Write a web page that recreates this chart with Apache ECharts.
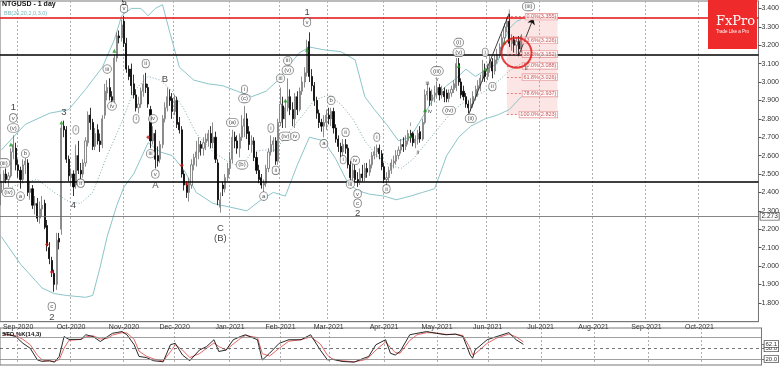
<!DOCTYPE html>
<html><head><meta charset="utf-8">
<script src="https://cdn.jsdelivr.net/npm/echarts@6/dist/echarts.min.js"></script>
<style>html,body{margin:0;padding:0;background:#fff}#c{width:782px;height:366px}</style>
</head><body><div id="c"></div>
<script>
// ---------- DATA ----------
const slotCount = 315; // trading-day slots from 21 Aug 2020 to early Nov 2021
const monthIdx = [7,29,51,72,95,116,136,159,181,202,224,246,268,290];
const monthLabels = ['Sep-2020','Oct-2020','Nov-2020','Dec-2020','Jan-2021','Feb-2021','Mar-2021','Apr-2021','May-2021','Jun-2021','Jul-2021','Aug-2021','Sep-2021','Oct-2021'];
const priceTicks = [1.8,1.9,2.0,2.1,2.2,2.3,2.4,2.5,2.6,2.7,2.8,2.9,3.0,3.1,3.2,3.3,3.4];
const stochTicks = [20,50,62.1,80];
// [open, close, low, high]
const ohlc = [
[2.40,2.46,2.33,2.50],[2.46,2.50,2.42,2.52],[2.50,2.47,2.45,2.53],[2.47,2.49,2.43,2.51],[2.49,2.62,2.48,2.64],
[2.62,2.66,2.58,2.71],[2.64,2.55,2.52,2.67],[2.55,2.52,2.48,2.58],[2.52,2.47,2.42,2.54],[2.47,2.55,2.45,2.58],
[2.55,2.57,2.50,2.59],[2.56,2.40,2.38,2.58],[2.40,2.42,2.36,2.46],[2.42,2.33,2.31,2.44],[2.33,2.34,2.28,2.38],
[2.34,2.26,2.24,2.37],[2.26,2.31,2.23,2.35],[2.31,2.33,2.27,2.38],[2.34,2.21,2.20,2.36],[2.22,2.11,2.08,2.25],
[2.10,2.04,2.01,2.13],[2.03,1.97,1.94,2.05],[1.96,1.90,1.86,1.98],[1.90,2.14,1.87,2.18],[2.15,2.13,2.09,2.18],
[2.20,2.75,2.17,2.77],[2.76,2.74,2.70,2.79],[2.74,2.58,2.56,2.76],[2.58,2.49,2.46,2.60],[2.48,2.50,2.44,2.53],
[2.50,2.43,2.38,2.52],[2.44,2.60,2.42,2.66],[2.60,2.52,2.50,2.68],[2.52,2.50,2.47,2.56],[2.50,2.56,2.48,2.58],
[2.56,2.68,2.54,2.70],[2.67,2.82,2.65,2.84],[2.82,2.78,2.74,2.86],[2.78,2.65,2.63,2.80],[2.65,2.72,2.63,2.75],
[2.74,2.68,2.66,2.77],[2.68,2.66,2.62,2.72],[2.66,2.80,2.64,2.82],[2.82,2.95,2.80,2.99],[2.94,2.97,2.90,3.01],
[2.97,2.92,2.90,3.02],[2.92,2.90,2.87,2.95],[2.90,3.13,2.88,3.15],[3.13,3.25,3.11,3.27],[3.25,3.24,3.21,3.28],
[3.24,3.31,3.22,3.34],[3.33,3.21,3.19,3.36],[3.21,3.07,3.05,3.24],[3.07,3.03,3.01,3.09],[3.07,2.98,2.93,3.10],
[2.99,2.93,2.91,3.04],[2.93,2.86,2.84,2.96],[2.86,2.88,2.83,2.92],[2.88,2.95,2.86,2.97],[2.95,2.99,2.92,3.04],
[2.99,2.97,2.94,3.05],[2.97,2.88,2.86,2.99],[2.85,2.68,2.64,2.87],[2.68,2.72,2.66,2.76],[2.72,2.58,2.53,2.74],
[2.60,2.57,2.54,2.65],[2.58,2.66,2.56,2.68],[2.66,2.80,2.64,2.82],[2.80,2.86,2.78,2.89],[2.86,2.92,2.84,2.97],
[2.92,2.90,2.87,2.96],[2.91,2.84,2.80,2.94],[2.84,2.90,2.82,2.93],[2.90,2.77,2.75,2.92],[2.78,2.74,2.72,2.81],
[2.74,2.50,2.48,2.76],[2.50,2.44,2.41,2.52],[2.44,2.40,2.37,2.46],[2.40,2.45,2.35,2.48],[2.44,2.55,2.42,2.58],
[2.55,2.59,2.52,2.61],[2.59,2.62,2.54,2.68],[2.62,2.66,2.58,2.70],[2.66,2.64,2.60,2.68],[2.64,2.67,2.60,2.70],
[2.67,2.69,2.63,2.72],[2.68,2.72,2.65,2.74],[2.72,2.67,2.64,2.76],[2.67,2.70,2.64,2.78],[2.70,2.58,2.56,2.73],
[2.56,2.36,2.33,2.58],[2.32,2.36,2.29,2.40],[2.44,2.42,2.38,2.46],[2.42,2.48,2.40,2.50],[2.48,2.53,2.46,2.56],
[2.53,2.58,2.50,2.62],[2.58,2.70,2.56,2.74],[2.70,2.68,2.64,2.73],[2.68,2.64,2.61,2.71],[2.64,2.70,2.59,2.72],
[2.70,2.76,2.68,2.82],[2.76,2.80,2.70,2.87],[2.80,2.72,2.69,2.83],[2.73,2.66,2.63,2.76],[2.66,2.68,2.62,2.71],
[2.68,2.59,2.57,2.70],[2.59,2.52,2.50,2.62],[2.52,2.47,2.45,2.55],[2.48,2.44,2.42,2.50],[2.44,2.45,2.40,2.47],
[2.45,2.53,2.43,2.55],[2.53,2.62,2.51,2.64],[2.62,2.66,2.60,2.71],[2.66,2.68,2.62,2.70],[2.68,2.57,2.55,2.70],
[2.57,2.78,2.55,2.80],[2.78,2.88,2.76,2.97],[2.87,2.80,2.75,2.92],[2.80,2.86,2.75,2.90],[2.86,2.92,2.84,3.02],
[2.92,2.85,2.82,2.96],[2.85,2.80,2.76,2.89],[2.80,2.92,2.75,2.94],[2.92,2.85,2.82,2.95],[2.85,2.95,2.84,2.97],
[2.95,3.00,2.93,3.03],[3.00,3.05,2.97,3.08],[3.05,3.19,3.03,3.23],[3.22,3.03,3.00,3.27],[3.03,2.98,2.95,3.07],
[2.98,2.90,2.87,3.00],[2.90,2.83,2.80,2.92],[2.83,2.78,2.75,2.85],[2.78,2.76,2.73,2.80],[2.76,2.78,2.70,2.82],
[2.78,2.82,2.74,2.85],[2.82,2.80,2.77,2.86],[2.80,2.84,2.76,2.86],[2.84,2.75,2.72,2.86],[2.75,2.69,2.67,2.77],
[2.69,2.65,2.62,2.71],[2.65,2.62,2.59,2.67],[2.62,2.66,2.60,2.69],[2.66,2.64,2.61,2.69],[2.64,2.55,2.53,2.66],
[2.55,2.48,2.46,2.57],[2.48,2.52,2.46,2.56],[2.52,2.47,2.45,2.55],[2.47,2.46,2.43,2.51],[2.46,2.50,2.44,2.53],
[2.50,2.48,2.46,2.55],[2.48,2.53,2.46,2.56],[2.53,2.51,2.48,2.56],[2.51,2.55,2.49,2.58],[2.55,2.60,2.53,2.62],
[2.60,2.62,2.58,2.65],[2.62,2.64,2.59,2.66],[2.64,2.61,2.58,2.66],[2.61,2.54,2.52,2.63],[2.54,2.47,2.45,2.56],
[2.47,2.48,2.44,2.51],[2.48,2.52,2.46,2.54],[2.52,2.56,2.50,2.58],[2.56,2.57,2.53,2.60],[2.57,2.60,2.55,2.63],
[2.60,2.63,2.58,2.65],[2.63,2.66,2.61,2.69],[2.66,2.65,2.62,2.70],[2.65,2.68,2.63,2.71],[2.68,2.72,2.66,2.74],
[2.72,2.70,2.67,2.74],[2.72,2.67,2.65,2.73],[2.67,2.69,2.64,2.71],[2.69,2.72,2.66,2.74],[2.73,2.69,2.67,2.76],
[2.69,2.78,2.68,2.80],[2.78,2.93,2.77,2.96],[2.93,2.95,2.90,2.99],[2.95,2.90,2.87,2.97],[2.90,2.93,2.87,2.96],
[2.93,2.94,2.89,2.98],[2.94,2.97,2.91,3.00],[2.97,2.93,2.90,2.99],[2.93,2.95,2.91,2.98],[2.95,2.92,2.89,2.97],
[2.94,2.91,2.89,2.96],[2.91,2.94,2.89,2.96],[2.94,2.96,2.92,2.98],[2.96,2.99,2.94,3.01],[2.97,3.10,2.95,3.13],
[3.10,3.00,2.98,3.13],[3.00,2.93,2.91,3.02],[2.95,2.92,2.90,2.98],[2.92,2.88,2.86,2.94],[2.88,2.86,2.83,2.90],
[2.86,2.88,2.84,2.91],[2.88,2.92,2.86,2.95],[2.92,2.96,2.90,2.98],[2.96,2.98,2.92,3.01],[2.98,3.02,2.95,3.04],
[3.02,3.06,3.00,3.12],[3.06,3.03,3.00,3.10],[3.03,3.08,3.01,3.10],[3.08,3.12,3.05,3.14],[3.11,3.06,3.02,3.13],
[3.06,3.12,3.04,3.15],[3.12,3.15,3.10,3.18],[3.15,3.19,3.13,3.21],[3.19,3.24,3.17,3.26],[3.24,3.30,3.22,3.32],
[3.30,3.33,3.27,3.35],[3.33,3.21,3.19,3.37],[3.21,3.23,3.17,3.26],[3.23,3.20,3.16,3.25],[3.20,3.22,3.15,3.24],
[3.22,3.18,3.14,3.25],[3.18,3.25,3.16,3.26]
];
// Bollinger band readings [slot, price]
const bbUpper = [[0,2.63],[10,2.77],[20,2.83],[28,2.85],[35,2.96],[42,3.08],[47,3.23],[50,3.36],[54,3.40],[58,3.40],[61,3.36],[64,3.40],[67,3.42],[70,3.27],[74,3.08],[80,3.01],[86,2.99],[92,2.98],[98,2.95],[104,2.92],[110,2.95],[115,3.01],[120,3.10],[124,3.16],[128,3.19],[134,3.175],[141,3.165],[147,3.12],[151,2.92],[155,2.85],[160,2.77],[165,2.68],[170,2.70],[175,2.81],[180,2.92],[185,2.98],[189,3.02],[193,3.07],[197,3.03],[201,3.065],[206,3.10],[209,3.23],[211,3.29],[214,3.33],[216,3.34]];
const bbMiddle = [[0,2.40],[8,2.45],[15,2.47],[22,2.40],[28,2.35],[33,2.34],[38,2.40],[44,2.60],[50,2.78],[55,2.95],[61,3.03],[66,3.01],[71,2.95],[76,2.85],[81,2.72],[88,2.62],[95,2.56],[100,2.54],[104,2.62],[109,2.63],[114,2.63],[119,2.72],[124,2.80],[130,2.90],[136,2.93],[141,2.88],[146,2.80],[151,2.68],[156,2.60],[161,2.55],[166,2.53],[171,2.58],[176,2.66],[181,2.74],[186,2.82],[191,2.88],[196,2.92],[201,2.95],[206,3.00],[211,3.06],[216,3.10]];
const bbLower = [[0,2.16],[8,2.01],[17,1.88],[22,1.85],[27,1.84],[35,1.83],[38,1.84],[41,1.99],[44,2.16],[48,2.33],[51,2.43],[55,2.50],[61,2.67],[66,2.62],[71,2.60],[76,2.52],[81,2.40],[88,2.34],[95,2.32],[102,2.30],[108,2.36],[113,2.40],[118,2.38],[123,2.55],[128,2.70],[134,2.68],[139,2.58],[144,2.45],[148,2.41],[153,2.39],[159,2.38],[164,2.36],[170,2.38],[175,2.40],[180,2.42],[185,2.60],[190,2.70],[195,2.76],[201,2.80],[206,2.82],[211,2.85],[216,2.92]];
// Stochastic readings [slot, value]
const stochK = [[1,92],[6,83],[9,64],[12,50],[15,17],[17,13],[20,15],[22,11],[24,27],[26,83],[28,75],[33,75],[35,88],[38,83],[41,69],[44,83],[46,92],[50,97],[52,88],[55,60],[57,27],[60,24],[63,15],[67,12],[70,60],[72,64],[75,31],[78,15],[82,45],[85,55],[88,74],[90,41],[93,45],[96,74],[99,83],[101,88],[106,74],[108,17],[111,36],[115,64],[119,74],[124,74],[128,88],[132,45],[135,17],[137,19],[141,13],[146,11],[150,22],[152,27],[155,60],[159,74],[161,36],[163,31],[165,41],[169,88],[172,92],[176,97],[180,92],[184,88],[188,90],[191,83],[194,31],[195,22],[196,45],[201,74],[205,83],[210,94],[213,74],[216,61]];
const stochD = [[1,88],[6,86],[9,75],[12,60],[15,30],[17,17],[20,14],[22,13],[24,18],[26,50],[28,72],[33,75],[35,82],[38,85],[41,76],[44,78],[46,87],[50,94],[52,93],[55,75],[57,42],[60,28],[63,20],[67,14],[70,40],[72,60],[75,45],[78,24],[82,35],[85,50],[88,65],[90,55],[93,45],[96,62],[99,78],[101,86],[106,80],[108,35],[111,28],[115,50],[119,70],[124,74],[128,82],[132,62],[135,30],[137,20],[141,15],[146,12],[150,17],[152,24],[155,45],[159,68],[161,52],[163,38],[165,36],[169,72],[172,88],[176,94],[180,93],[184,89],[188,89],[191,86],[194,50],[195,32],[196,34],[201,64],[205,79],[210,90],[213,82],[216,68]];
// horizontal levels
const redLevel = 3.355, upperBlack = 3.146, lowerBlack = 2.456, greyLevel = 2.273, lastPrice = 3.254;
const fibLevels = [3.355,3.226,3.152,3.088,3.026,2.937,2.823];
const fibNames = ['0.0%','23.6%','38.2%','50.0%','61.8%','78.6%','100.0%'];
const fibStart = 210, fibEnd = 231;
// wave labels [text, slot, price]
const circledLabels = [['(iii)',1,2.56],['(iv)',3,2.40],['v',5,2.805],['(v)',5,2.75],['a',8,2.38],['b',10,2.61],['c',21,1.78],['i',31,2.74],['ii',33,2.45],['iii',44,3.07],['iv',46,2.87],['v',51,3.40],['i',56,2.80],['ii',60,3.10],['iii',62,2.61],['iv',63,2.80],['v',64,2.50],['(a)',96,2.78],['(b)',100,2.55],['i',101,2.96],['(c)',101,2.91],['a',109,2.38],['i',112,2.75],['ii',114,2.52],['iii',116,3.02],['(iv)',118,2.705],['iii',119,3.115],['(v)',119,3.064],['iv',122,2.705],['v',127,3.325],['a',134,2.665],['b',137,2.90],['i',142,2.578],['ii',143,2.727],['iii',145,2.445],['iv',147,2.574],['v',148,2.392],['c',148,2.341],['i',156,2.70],['ii',160,2.419],['(iii)',181,3.06],['(iv)',186,2.845],['(i)',190,3.215],['(v)',190,3.161],['(ii)',195,2.802],['i',201,3.161],['ii',204,2.975],['(iii)',219,3.41]];
const bigLabels = [['1',5,2.86],['2',21,1.72],['3',26,2.833],['4',30,2.33],['5',51,3.435],['A',64,2.437],['B',68,3.015],['C',91,2.204],['(B)',91,2.15],['1',127,3.379],['2',148,2.286]];
const smallLabels = [['i',170,2.77],['ii',173,2.62],['iii',177,2.99],['iv',178,2.84],['v',181,3.015],['i',211,3.385],['ii',218,3.073]];
const greenMarks = [[4,2.66],[25,2.78],[47,3.17],[118,2.90],[127,3.175],[170,2.705],[176,2.847],[190,3.087],[201,3.069],[209,3.215]];
const redMarks = [[19,2.117],[21,1.967],[61,2.70],[75,2.547],[77,2.445]];
const trendLine = [[194,2.82],[211,3.374]];
const projArrow = [[215,3.147],[221,3.346]];
const circleSpot = [214,3.159];

// ---------- CHART ----------
const FONT = 'Liberation Sans, Arial, sans-serif';
const cats = Array.from({length: slotCount}, (_, i) => String(i));
const isMonth = (i) => monthIdx.indexOf(i) >= 0;
const chart = echarts.init(document.getElementById('c'), null, {renderer: 'canvas'});

const fibLines = fibLevels.map(v => [{coord:[fibStart, v]}, {coord:[fibEnd, v]}]);
const fibTexts = fibLevels.map((v, k) => ({value:[fibEnd, v], name: fibNames[k] + '(' + v.toFixed(3) + ')'}));

const option = {
  animation: false,
  backgroundColor: '#fff',
  textStyle: {fontFamily: FONT},
  grid: [
    {left: 0, right: 20, top: 1, height: 320.7, show: true, borderColor: '#777', borderWidth: 1},
    {left: 0, right: 20, top: 328, height: 37, show: true, borderColor: '#777', borderWidth: 1}
  ],
  xAxis: [
    {type: 'category', gridIndex: 0, data: cats, boundaryGap: true,
     axisLine: {show: true, lineStyle: {color: '#777'}}, axisTick: {show: false},
     axisLabel: {show: true, interval: (i) => isMonth(i), formatter: (v, i) => monthLabels[monthIdx.indexOf(i)] || '',
       fontSize: 7, color: '#333', margin: 2, fontFamily: FONT},
     splitLine: {show: true, interval: (i) => isMonth(i), lineStyle: {color: '#b0b0b0', type: [2,2], width: 1}}},
    {type: 'category', gridIndex: 1, data: cats, boundaryGap: true,
     axisLine: {show: false}, axisTick: {show: false}, axisLabel: {show: false},
     splitLine: {show: true, interval: (i) => isMonth(i), lineStyle: {color: '#b0b0b0', type: [2,2], width: 1}}}
  ],
  yAxis: [
    {type: 'value', gridIndex: 0, position: 'right', min: 1.6973, max: 3.4402, scale: true,
     axisLine: {show: true, lineStyle: {color: '#777'}},
     axisTick: {show: true, customValues: priceTicks, length: 3, lineStyle: {color: '#555'}},
     axisLabel: {customValues: priceTicks, formatter: v => v.toFixed(3), fontSize: 7, color: '#333', margin: 3, fontFamily: FONT},
     splitLine: {show: false}},
    {type: 'value', gridIndex: 1, position: 'right', min: 3, max: 107,
     axisLine: {show: true, lineStyle: {color: '#777'}},
     axisTick: {show: true, customValues: stochTicks, length: 3},
     axisLabel: {customValues: stochTicks, formatter: v => v.toFixed(1), fontSize: 6, color: '#333', margin: 3,
       borderColor: '#555', borderWidth: 0.8, padding: [0,1], backgroundColor: '#fff', fontFamily: FONT},
     splitLine: {show: false}}
  ],
  graphic: [
    {type: 'rect', left: 708, top: 0, shape: {width: 49, height: 49}, style: {fill: '#ee2a2a'}, z: 50},
    {type: 'text', left: 716, top: 15, style: {text: 'FxPro', fill: '#fff', font: '13px "DejaVu Serif", "Liberation Serif", serif'}, z: 51},
    {type: 'text', left: 716, top: 29, style: {text: 'Trade Like a Pro', fill: '#fff', font: '4.5px ' + FONT}, z: 51},
    {type: 'text', left: 2, top: 1, style: {text: 'NTGUSD - 1 day', fill: '#111', font: 'bold 7px ' + FONT}, z: 51},
    {type: 'text', left: 4, top: 10, style: {text: 'BB(20,20,2,0,3,0)', fill: '#7ab8bb', font: '5.5px ' + FONT}, z: 51},
    {type: 'text', left: 2, top: 331, style: {text: 'STO %K(14,3)', fill: '#111', font: 'bold 6px ' + FONT}, z: 51}
  ],
  series: [
    {type: 'line', xAxisIndex: 0, yAxisIndex: 0, data: bbUpper, symbol: 'none', lineStyle: {color: '#8cc5c9', width: 1}, z: 2, silent: true},
    {type: 'line', xAxisIndex: 0, yAxisIndex: 0, data: bbMiddle, symbol: 'none', lineStyle: {color: '#7aa9ad', width: 1, type: [1,2]}, z: 2, silent: true},
    {type: 'line', xAxisIndex: 0, yAxisIndex: 0, data: bbLower, symbol: 'none', lineStyle: {color: '#8cc5c9', width: 1}, z: 2, silent: true,
     markArea: {silent: true, itemStyle: {color: 'rgba(240,150,150,0.25)'}, data: [[{coord:[fibStart, fibLevels[0]]},{coord:[fibEnd, fibLevels[6]]}]]}},
    {type: 'candlestick', xAxisIndex: 0, yAxisIndex: 0, data: ohlc, barWidth: 1.6, z: 3,
     itemStyle: {color: '#ffffff', color0: '#000000', borderColor: '#6e6e6e', borderColor0: '#000000', borderWidth: 0.8},
     markLine: {silent: true, symbol: 'none', animation: false,
       label: {show: false},
       data: [
         {yAxis: redLevel, lineStyle: {color: '#e01010', width: 1.5, type: 'solid'}},
         {yAxis: upperBlack, lineStyle: {color: '#000', width: 1.6, type: 'solid'}},
         {yAxis: lowerBlack, lineStyle: {color: '#000', width: 1.6, type: 'solid'}},
         {yAxis: greyLevel, lineStyle: {color: '#666', width: 0.8, type: 'solid'},
          label: {show: true, position: 'end', formatter: greyLevel.toFixed(3), fontSize: 6.5, color: '#333', borderColor: '#555', borderWidth: 0.8, padding: [0,1], backgroundColor: '#fff', distance: 2}},
         {yAxis: lastPrice, lineStyle: {color: '#000', width: 0, opacity: 0},
          label: {show: true, position: 'end', formatter: lastPrice.toFixed(3), fontSize: 6.5, color: '#333', borderColor: '#555', borderWidth: 0.8, padding: [0,1], backgroundColor: '#fff', distance: 2}}
       ]}},
    {type: 'line', xAxisIndex: 0, yAxisIndex: 0, data: [], symbol: 'none', z: 4,
     markLine: {silent: true, symbol: 'none', label: {show: false}, lineStyle: {color: '#e06060', width: 0.8, type: [2,2]}, data: fibLines}},
    {type: 'line', xAxisIndex: 0, yAxisIndex: 0, data: [], symbol: 'none', z: 5,
     markLine: {silent: true, label: {show: false}, data: [
       [{coord: trendLine[0], symbol: 'none'}, {coord: trendLine[1], symbol: 'none', lineStyle: {color: '#111', width: 0.8, type: 'solid'}}],
       [{coord: projArrow[0], symbol: 'none'}, {coord: projArrow[1], symbol: 'arrow', symbolSize: 6, lineStyle: {color: '#111', width: 0.8, type: 'solid'}}]
     ], lineStyle: {color: '#111', width: 0.8, type: 'solid'}}},
    {type: 'scatter', xAxisIndex: 0, yAxisIndex: 0, data: fibTexts, symbolSize: 0, z: 6, silent: true,
     label: {show: true, position: 'left', distance: 0, formatter: p => p.name, fontSize: 5.5, color: '#b33', backgroundColor: '#fff', borderColor: '#d77', borderWidth: 0.6, padding: [0,1], fontFamily: FONT}},
    {type: 'scatter', xAxisIndex: 0, yAxisIndex: 0, data: [circleSpot], symbol: 'circle', symbolSize: 30, z: 7, silent: true,
     itemStyle: {color: 'rgba(255,120,120,0.08)', borderColor: '#e01010', borderWidth: 2}},
    {type: 'scatter', xAxisIndex: 0, yAxisIndex: 0, data: greenMarks, symbol: 'triangle', symbolSize: 4, z: 6, silent: true, itemStyle: {color: '#1a9a1a'}},
    {type: 'scatter', xAxisIndex: 0, yAxisIndex: 0, data: redMarks, symbol: 'diamond', symbolSize: 4, z: 6, silent: true, itemStyle: {color: '#d01010'}},
    {type: 'scatter', xAxisIndex: 0, yAxisIndex: 0, data: circledLabels.map(d => ({value: [d[1], d[2]], name: d[0]})), symbolSize: 0, z: 8, silent: true,
     label: {show: true, position: 'inside', formatter: p => p.name, fontSize: 6, color: '#222', backgroundColor: '#fff', borderColor: '#444', borderWidth: 0.6, borderRadius: 7, padding: [1,2], fontFamily: FONT}},
    {type: 'scatter', xAxisIndex: 0, yAxisIndex: 0, data: bigLabels.map(d => ({value: [d[1], d[2]], name: d[0]})), symbolSize: 0, z: 8, silent: true,
     label: {show: true, position: 'inside', formatter: p => p.name, fontSize: 9.5, color: '#111', fontFamily: FONT}},
    {type: 'scatter', xAxisIndex: 0, yAxisIndex: 0, data: smallLabels.map(d => ({value: [d[1], d[2]], name: d[0]})), symbolSize: 0, z: 8, silent: true,
     label: {show: true, position: 'inside', formatter: p => p.name, fontSize: 6, color: '#111', fontFamily: FONT}},
    {type: 'line', xAxisIndex: 1, yAxisIndex: 1, data: stochD, symbol: 'none', lineStyle: {color: '#e04040', width: 0.8}, z: 3, silent: true,
     markLine: {silent: true, symbol: 'none', label: {show: false}, data: [
       {yAxis: 80, lineStyle: {color: '#888', width: 0.8, type: 'solid'}},
       {yAxis: 50, lineStyle: {color: '#555', width: 0.8, type: [3,3]}},
       {yAxis: 20, lineStyle: {color: '#888', width: 0.8, type: 'solid'}}
     ]}},
    {type: 'line', xAxisIndex: 1, yAxisIndex: 1, data: stochK, symbol: 'none', lineStyle: {color: '#111', width: 0.9}, z: 4, silent: true}
  ]
};
chart.setOption(option);
</script>
</body></html>
